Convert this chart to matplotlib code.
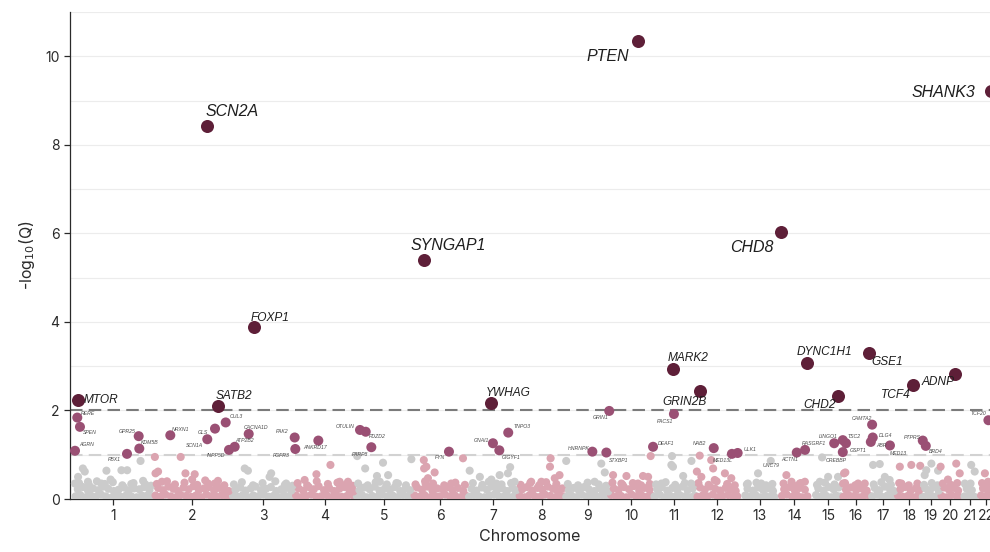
"""Manhattan plot of gene-level association (-log10 Q) across chromosomes."""

import numpy as np
import matplotlib
matplotlib.use("Agg")
import matplotlib.pyplot as plt

plt.rcParams["font.family"] = ["Inter", "DejaVu Sans"]

# chromosome lengths in Mb (1..22)
chrom_len = [249, 243, 198, 191, 181, 171, 159, 146, 141, 136, 135,
             134, 115, 107, 102, 90, 81, 78, 59, 63, 48, 51]
chrom_names = [str(i) for i in range(1, 23)]

# genome-wide significant genes (Q < 0.01), position = cumulative Mb
top_genes = ["MTOR", "SCN2A", "SATB2", "FOXP1", "SYNGAP1", "YWHAG", "PTEN", "MARK2",
             "GRIN2B", "CHD8", "DYNC1H1", "CHD2", "GSE1", "TCF4", "ADNP", "SHANK3"]
top_pos = [10.7, 415.6, 450, 563, 1097, 1307, 1768, 1878,
           1963, 2217, 2299, 2396, 2493, 2632, 2764, 2876]
top_q = [2.23, 8.42, 2.10, 3.88, 5.40, 2.17, 10.34, 2.93,
         2.44, 6.03, 3.07, 2.33, 3.30, 2.57, 2.82, 9.21]

# suggestive genes (Q < 0.1) plus two labelled ones just below
mid_genes = ["RERE", "SPEN", "AGRN", "PBX1", "GPR25", "KDM5B", "NRXN1", "SCN1A", "GLS",
             "CUL3", "INPP5D", "ATP2B2", "CACNA1D", "PAK2", "FGFR3", "ANKRD17", "OTULIN",
             "PDZD2", "PARP8", "FYN", "GNAI1", "GIGYF1", "TNPO3", "HNRNPK", "STXBP1", "GRIN1",
             "DEAF1", "PACS1", "NAB2", "MED13L", "ULK1", "UNC79", "ACTN1", "RASGRF1", "CREBBP",
             "LINGO1", "TSC2", "GSPT1", "", "CAMTA2", "DLG4", "ABR", "MED13", "PTPRS", "BRD4",
             "TCF20"]
mid_pos = [8.5, 16.9, 1.3, 164.5, 201.2, 203.1, 300.4, 416.5, 440.7,
           474.3, 484.6, 502.5, 546.5, 690.8, 692.7, 765, 895.8,
           913.7, 931.3, 1175, 1313, 1333, 1361, 1625, 1669, 1678,
           1815.5, 1881, 2006, 2063, 2081, 2185, 2266.5, 2292.5, 2346,
           2384, 2411, 2411, 2421, 2503, 2505, 2499, 2559, 2662, 2671.5,
           2868]
mid_q = [1.84, 1.63, 1.09, 1.02, 1.42, 1.14, 1.44, 1.35, 1.59,
         1.73, 1.11, 1.18, 1.47, 1.39, 1.13, 1.32, 1.56,
         1.52, 1.17, 1.07, 1.26, 1.10, 1.50, 1.07, 1.05, 1.99,
         1.18, 1.92, 1.15, 1.02, 1.04, 0.86, 1.05, 1.11, 0.94,
         1.26, 1.33, 1.06, 1.26, 1.68, 1.39, 1.29, 1.21, 1.32, 1.20,
         1.78]

# remaining genes: scattered upper tail of the cloud
background = [
    (26, .69), (32, .62), (11, .50), (1, .35), (100, .64), (113, .44), (84, .35),
    (147, .65), (165, .65), (207, .86), (178, .34), (215, .41), (42, .39),
    (252, .95), (333, .95), (262, .62), (254, .58), (348, .58), (377, .56), (369, .44),
    (274, .39), (450, .41), (419, .35),
    (534, .69), (544, .64), (617, .58), (612, .50), (664, .35),
    (803, .77), (759, .56), (722, .43), (832, .39), (858, .39),
    (887, .97), (912, .69), (968, .82), (949, .52), (984, .54), (958, .39), (1015, .35),
    (1057, .90),
    (1096, .88), (1097, .69), (1104, .73), (1130, .60), (1109, .47), (1102, .34),
    (1182, .35), (1219, .92),
    (1240, .64), (1272, .50), (1308, .44), (1334, .54), (1360, .58), (1324, .35),
    (1381, .39), (1367, .72),
    (1494, .92), (1492, .73), (1522, .54), (1507, .47), (1465, .39), (1433, .39),
    (1543, .86), (1653, .80), (1664, .60), (1632, .39),
    (1690, .54), (1732, .52), (1784, .52), (1800, .50), (1716, .35), (1768, .35),
    (1808, .97),
    (1875, .97), (1873, .77), (1878, .73), (1936, .86), (1910, .52), (1842, .35),
    (1935, .35),
    (1962, .98), (2004, .69), (1998, .88), (1953, .62), (1967, .50), (2009, .43),
    (2041, .58), (2061, .47),
    (2145, .58), (2113, .35), (2155, .35), (2187, .24),
    (2234, .54), (2250, .39), (2276, .35), (2292, .39),
    (2365, .50), (2339, .39), (2396, .50),
    (2415, .58), (2419, .60), (2412, .35), (2459, .35),
    (2506, .77), (2527, .79), (2543, .50), (2558, .43),
    (2590, .73), (2626, .77), (2654, .75), (2595, .35),
    (2689, .80), (2673, .65), (2710, .64), (2668, .54),
    (2718, .73), (2767, .80), (2778, .58), (2741, .44),
    (2814, .77), (2825, .62), (2794, .35),
    (2857, .58), (2867, .39),
]

# dense bulk of the cloud near zero, lower layer
base_low = [
    (3, .06), (18, .09), (35, .04), (50, .08), (66, .05), (83, .10), (98, .06), (115, .03),
    (131, .08), (146, .05), (163, .09), (178, .06), (195, .04), (211, .08), (226, .07), (243, .05),
    (254, .08), (270, .05), (285, .10), (302, .06), (318, .04), (333, .09), (350, .07), (366, .05),
    (381, .08), (398, .04), (414, .10), (429, .06), (446, .05), (462, .09), (477, .06), (488, .04),
    (497, .07), (513, .05), (528, .09), (545, .04), (561, .08), (576, .06), (593, .10), (609, .05),
    (624, .07), (641, .04), (657, .09), (672, .06), (686, .05),
    (695, .08), (711, .04), (726, .07), (743, .10), (759, .05), (774, .06), (791, .09), (807, .04),
    (822, .08), (839, .05), (855, .07), (870, .10), (878, .05),
    (886, .06), (902, .09), (917, .04), (934, .07), (950, .05), (965, .10), (982, .06), (998, .08),
    (1013, .04), (1030, .09), (1046, .06), (1058, .05),
    (1067, .08), (1083, .05), (1098, .09), (1115, .04), (1131, .07), (1146, .06), (1163, .10),
    (1179, .05), (1194, .08), (1211, .04), (1229, .07),
    (1238, .05), (1254, .09), (1269, .06), (1286, .04), (1302, .08), (1317, .10), (1334, .05),
    (1350, .07), (1365, .04), (1382, .09), (1389, .06),
    (1397, .07), (1413, .04), (1428, .09), (1445, .06), (1461, .05), (1476, .10), (1493, .07),
    (1509, .04), (1524, .08), (1535, .06),
    (1543, .05), (1559, .08), (1574, .04), (1591, .10), (1607, .06), (1622, .07), (1639, .05),
    (1655, .09), (1670, .06),
    (1684, .09), (1700, .05), (1715, .07), (1732, .04), (1748, .10), (1763, .06), (1780, .08),
    (1796, .05), (1811, .07),
    (1820, .06), (1836, .10), (1851, .04), (1868, .08), (1884, .05), (1899, .09), (1916, .06),
    (1932, .04), (1946, .08),
    (1955, .05), (1971, .08), (1986, .06), (2003, .10), (2019, .04), (2034, .07), (2051, .09),
    (2067, .05), (2080, .06),
    (2105, .08), (2120, .05), (2137, .09), (2153, .04), (2168, .07), (2185, .06), (2196, .05),
    (2220, .07), (2235, .10), (2252, .05), (2268, .08), (2283, .04), (2300, .06),
    (2327, .09), (2342, .05), (2359, .07), (2375, .04), (2390, .08), (2404, .06),
    (2413, .05), (2429, .09), (2444, .06), (2461, .04), (2477, .08), (2494, .07),
    (2503, .06), (2519, .10), (2534, .05), (2551, .08), (2567, .04), (2576, .07),
    (2584, .08), (2600, .05), (2615, .07), (2632, .04), (2648, .09), (2654, .06),
    (2662, .05), (2678, .09), (2693, .06), (2710, .08),
    (2721, .07), (2737, .04), (2752, .09), (2769, .06), (2776, .05),
    (2793, .06), (2808, .09), (2824, .05),
    (2845, .08), (2858, .05), (2871, .07),
]

# dense bulk, upper layer
base_high = [
    (10, .22), (26, .27), (42, .19), (58, .24), (75, .20), (90, .28), (106, .23), (123, .18),
    (138, .21), (155, .26), (170, .19), (187, .24), (203, .22), (218, .27), (235, .20),
    (262, .25), (277, .20), (294, .28), (310, .23), (325, .18), (342, .26), (358, .22), (373, .29),
    (390, .20), (406, .24), (421, .27), (438, .19), (454, .25), (469, .22), (484, .18),
    (505, .21), (520, .26), (537, .19), (553, .24), (568, .28), (585, .20), (601, .23), (616, .27),
    (633, .18), (649, .22), (664, .25), (680, .19),
    (703, .24), (718, .19), (735, .27), (751, .22), (766, .29), (783, .20), (799, .25), (814, .18),
    (831, .23), (847, .27), (862, .21), (875, .17),
    (894, .20), (909, .26), (926, .22), (942, .28), (957, .19), (974, .24), (990, .21),
    (1005, .27), (1022, .18), (1038, .23), (1053, .20),
    (1075, .26), (1090, .21), (1107, .28), (1123, .19), (1138, .24), (1155, .22), (1171, .27),
    (1186, .20), (1203, .25), (1220, .18),
    (1246, .23), (1261, .19), (1278, .26), (1294, .21), (1309, .28), (1326, .20), (1342, .24),
    (1357, .18), (1374, .25), (1386, .20),
    (1405, .22), (1420, .27), (1437, .19), (1453, .25), (1468, .21), (1485, .28), (1501, .23),
    (1516, .18), (1531, .24),
    (1551, .20), (1566, .25), (1583, .19), (1599, .27), (1614, .22), (1631, .18), (1647, .24),
    (1662, .21), (1675, .17),
    (1692, .24), (1707, .20), (1724, .27), (1740, .22), (1755, .29), (1772, .19), (1788, .25),
    (1804, .21),
    (1828, .22), (1843, .27), (1860, .19), (1876, .25), (1891, .21), (1908, .28), (1924, .20),
    (1940, .24),
    (1963, .26), (1978, .21), (1995, .28), (2011, .23), (2026, .19), (2043, .25), (2059, .22),
    (2075, .18),
    (2112, .23), (2129, .19), (2145, .26), (2160, .21), (2177, .24), (2192, .18),
    (2227, .22), (2244, .27), (2260, .20), (2275, .25), (2292, .21),
    (2334, .24), (2351, .19), (2367, .27), (2382, .22), (2398, .26),
    (2421, .21), (2436, .26), (2453, .20), (2469, .24), (2486, .19),
    (2511, .25), (2526, .20), (2543, .28), (2559, .22), (2572, .18),
    (2592, .22), (2607, .27), (2624, .19), (2640, .24), (2651, .20),
    (2670, .24), (2685, .20), (2702, .27), (2712, .19),
    (2729, .26), (2744, .21), (2761, .25), (2773, .19),
    (2800, .23), (2816, .20),
    (2851, .24), (2865, .20),
]

# bumps on top of the dense bulk
base_top = [
    (14, .36), (45, .32), (70, .40), (95, .34), (120, .38), (150, .31), (185, .36), (222, .33),
    (240, .30),
    (258, .34), (290, .40), (315, .33), (345, .37), (385, .32), (410, .42), (440, .35), (470, .31),
    (500, .33), (525, .38), (560, .31), (590, .36), (630, .40), (660, .32), (684, .30),
    (700, .36), (730, .31), (760, .40), (795, .34), (825, .37), (850, .32), (872, .30),
    (890, .35), (920, .31), (945, .38), (980, .33), (1010, .36), (1040, .31),
    (1070, .33), (1100, .40), (1125, .35), (1160, .31), (1195, .37), (1225, .32),
    (1250, .36), (1280, .32), (1300, .39), (1340, .33), (1370, .36),
    (1400, .32), (1430, .36), (1458, .31), (1480, .38), (1512, .34),
    (1548, .34), (1580, .31), (1610, .37), (1645, .33), (1668, .30),
    (1688, .37), (1720, .32), (1752, .36), (1778, .31), (1805, .34),
    (1825, .33), (1855, .38), (1885, .32), (1915, .36), (1942, .31),
    (1958, .36), (1990, .32), (2015, .40), (2048, .34), (2072, .31),
    (2110, .33), (2140, .37), (2170, .31), (2190, .34),
    (2225, .35), (2255, .31), (2280, .36),
    (2330, .32), (2355, .37), (2385, .33),
    (2418, .36), (2450, .31), (2480, .35),
    (2508, .33), (2532, .38), (2562, .32),
    (2588, .36), (2618, .31), (2645, .35),
    (2666, .32), (2690, .36), (2708, .31),
    (2725, .35), (2750, .32), (2770, .36),
    (2797, .32), (2812, .35),
    (2848, .36), (2862, .31),
]

# label placement: (dx, dy) in pixels from the point to the left/centre of the text
top_offsets = {
    "MTOR": (6, 0), "SCN2A": (-1, 15), "SATB2": (-2, 10), "FOXP1": (-3, 9),
    "SYNGAP1": (-14, 15), "YWHAG": (-5, 10), "PTEN": (-51, -15), "MARK2": (-5, 11),
    "GRIN2B": (-38, -11), "CHD8": (-51, -15), "DYNC1H1": (-10, 11), "CHD2": (-35, -9),
    "GSE1": (2, -9), "TCF4": (-32, -10), "ADNP": (-34, -8), "SHANK3": (-79, -1),
}
mid_offsets = {
    "RERE": (4, 4), "SPEN": (3, -6), "AGRN": (4, 6), "PBX1": (-19, -6),
    "GPR25": (-20, 5), "KDM5B": (2, 6), "NRXN1": (2, 6), "SCN1A": (-21, -6),
    "GLS": (-17, -4), "CUL3": (4, 6), "INPP5D": (-22, -6), "ATP2B2": (1, 6),
    "CACNA1D": (-5, 6), "PAK2": (-19, 6), "FGFR3": (-22, -7), "ANKRD17": (-15, -7),
    "OTULIN": (-24, 3), "PDZD2": (3, -5), "PARP8": (-19, -7), "FYN": (-14, -6),
    "GNAI1": (-19, 3), "GIGYF1": (2, -7), "TNPO3": (5, 6), "HNRNPK": (-25, 3),
    "STXBP1": (2, -8), "GRIN1": (-16, -7), "DEAF1": (5, 3), "PACS1": (-17, -7),
    "NAB2": (-21, 5), "MED13L": (-19, -7), "ULK1": (6, 3), "UNC79": (-8, -5),
    "ACTN1": (-16, -7), "RASGRF1": (-3, 6), "CREBBP": (4, -3), "LINGO1": (-15, 7),
    "TSC2": (5, 4), "GSPT1": (7, 2), "CAMTA2": (-20, 6), "DLG4": (6, 2),
    "ABR": (5, -4), "MED13": (0, -8), "PTPRS": (-19, 3), "BRD4": (3, -6),
    "TCF20": (-18, 7),
}

GREY, PINK = "#cbcbcb", "#dba4b0"
MAUVE, DARK = "#9a5074", "#5e1f38"

chrom_end = np.cumsum(chrom_len)


def chrom_of(pos):
    return np.searchsorted(chrom_end, np.asarray(pos), side="right")


def cloud_colour(pos):
    return np.where(chrom_of(pos) % 2 == 0, GREY, PINK)


def main():
    fig = plt.figure(figsize=(9.9, 5.52), dpi=100)
    ax = fig.add_axes([0.0707, 0.096, 0.9293, 0.882])

    cloud = base_low + base_high + base_top + background
    cx = np.array([p for p, _ in cloud])
    cq = np.array([q for _, q in cloud])
    ax.scatter(cx, cq, s=34, c=cloud_colour(cx), linewidths=0, zorder=3)

    mx, mq = np.array(mid_pos), np.array(mid_q)
    mcol = np.where(mq >= 1, MAUVE, cloud_colour(mx))
    msize = np.where(mq >= 1, 52, 34)
    ax.scatter(mx, mq, s=msize, c=mcol, linewidths=0, zorder=4)

    ax.scatter(top_pos, top_q, s=88, c=DARK, linewidths=0, zorder=5)

    ax.axhline(2, color="#7b7b7b", lw=1.5, ls=(0, (6, 3)), zorder=2)
    ax.axhline(1, color="#d2d2d2", lw=1.5, ls=(0, (6, 3)), zorder=2)

    for g, x, q in zip(mid_genes, mid_pos, mid_q):
        if not g:
            continue
        dx, dy = mid_offsets[g]
        ax.annotate(g, (x, q), xytext=(dx, dy), textcoords="offset pixels",
                    ha="left", va="center", fontsize=3.7, color="#4a4a4a",
                    family="Liberation Sans", style="italic", zorder=6)

    for g, x, q in zip(top_genes, top_pos, top_q):
        dx, dy = top_offsets[g]
        ax.annotate(g, (x, q), xytext=(dx, dy), textcoords="offset pixels",
                    ha="left", va="center", fontsize=11.5 if q > 5 else 8.6,
                    color="#1e1e1e", family="Liberation Sans", style="italic",
                    annotation_clip=False, zorder=6)

    # chromosome ticks at the middle of the genes on each chromosome
    allx = np.concatenate([cx, mx, np.array(top_pos)])
    idx = chrom_of(allx)
    ticks = [(allx[idx == i].min() + allx[idx == i].max()) / 2 for i in range(22)]
    ax.set_xticks(ticks)
    ax.set_xticklabels(chrom_names)
    ax.set_xlim(-14.4, 2873)

    ax.set_ylim(0, 11)
    ax.set_yticks(range(0, 11, 2))
    ax.set_yticks(range(0, 12), minor=True)
    ax.grid(axis="y", which="both", color="#ececec", lw=0.8, zorder=0)
    ax.set_axisbelow(True)

    for side in ("top", "right"):
        ax.spines[side].set_visible(False)
    for side in ("left", "bottom"):
        ax.spines[side].set_color("#2a2a2a")
        ax.spines[side].set_linewidth(0.9)
    ax.tick_params(axis="both", which="major", length=4, width=0.9,
                   color="#2a2a2a", labelsize=10, labelcolor="#2a2a2a")
    ax.tick_params(axis="y", which="minor", length=0)

    ax.set_xlabel("Chromosome", fontsize=11.5, color="#2a2a2a", labelpad=4)
    ax.set_ylabel("-log$_{10}$(Q)", fontsize=11.5, color="#2a2a2a", labelpad=6)

    fig.savefig("out.png", dpi=100)


if __name__ == "__main__":
    main()
